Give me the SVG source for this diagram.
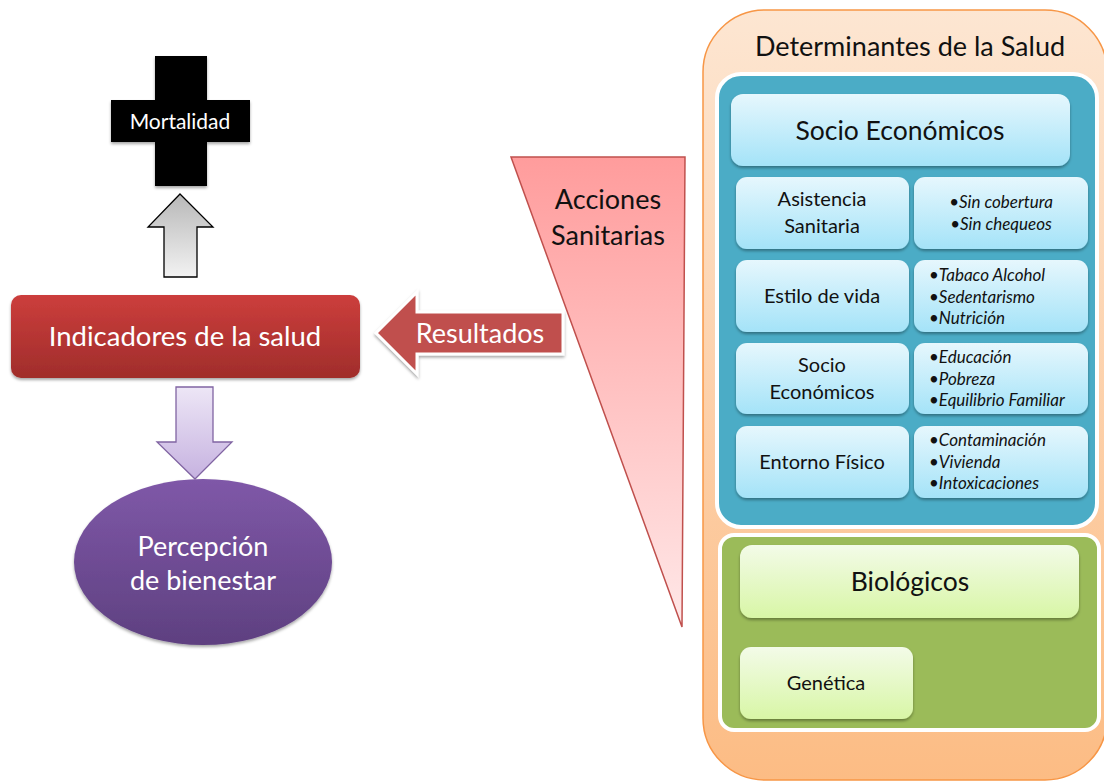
<svg xmlns="http://www.w3.org/2000/svg" width="1104" height="781" viewBox="0 0 1104 781">
<defs>
<style>
text{font-family:Lato,"Open Sans","Liberation Sans",sans-serif;}
.w{fill:#fff;}
.k{fill:#111;}
.c{text-anchor:middle;}
.it{font-style:italic;font-size:17px;fill:#111;}
.cell{fill:url(#gBlue);}
.gcell{fill:url(#gGreen);}
</style>
<linearGradient id="gRed" x1="0" y1="0" x2="0" y2="1"><stop offset="0" stop-color="#cc3e3c"/><stop offset="1" stop-color="#a02d2b"/></linearGradient>
<linearGradient id="gGrey" x1="0" y1="0" x2="0" y2="1"><stop offset="0" stop-color="#b8b8b8"/><stop offset="1" stop-color="#f2f2f2"/></linearGradient>
<linearGradient id="gLav" x1="0" y1="0" x2="0" y2="1"><stop offset="0" stop-color="#ede6f6"/><stop offset="1" stop-color="#c6b2e0"/></linearGradient>
<linearGradient id="gPurp" x1="0" y1="0" x2="0" y2="1"><stop offset="0" stop-color="#7f58a8"/><stop offset="1" stop-color="#5e4080"/></linearGradient>
<linearGradient id="gTri" x1="0" y1="0" x2="0" y2="1"><stop offset="0" stop-color="#ff9c9c"/><stop offset="1" stop-color="#ffe8e8"/></linearGradient>
<linearGradient id="gOr" x1="0" y1="0" x2="0" y2="1"><stop offset="0" stop-color="#fde6d2"/><stop offset="1" stop-color="#fcbc84"/></linearGradient>
<linearGradient id="gBlue" x1="0" y1="0" x2="0" y2="1"><stop offset="0" stop-color="#e6f7fd"/><stop offset="1" stop-color="#a4e3f8"/></linearGradient>
<linearGradient id="gGreen" x1="0" y1="0" x2="0" y2="1"><stop offset="0" stop-color="#f3fbe8"/><stop offset="1" stop-color="#d8f6a6"/></linearGradient>
<filter id="sh" x="-10%" y="-10%" width="120%" height="130%"><feDropShadow dx="0" dy="2" stdDeviation="1.5" flood-color="#000" flood-opacity="0.35"/></filter>
</defs>

<g id="mortalidad">
<path d="M155,56 H207 V100 H250 V142 H207 V186 H155 V142 H111 V100 H155 Z" fill="#000" filter="url(#sh)"/>
<text class="w c" x="180" y="129" font-size="21">Mortalidad</text>
</g>

<g id="indicadores">
<rect x="11" y="295" width="349" height="83" rx="10" fill="url(#gRed)" filter="url(#sh)"/>
<text class="w c" x="185" y="346" font-size="27.5">Indicadores de la salud</text>
</g>

<g id="percepcion">
<ellipse cx="203" cy="562" rx="129" ry="83" fill="url(#gPurp)" filter="url(#sh)"/>
<text class="w c" x="203" y="556" font-size="27">Percepción</text>
<text class="w c" x="203" y="590" font-size="27">de bienestar</text>
</g>

<g id="acciones">
<polygon points="511,157 685,157 682,627" fill="url(#gTri)" stroke="#c0504d" stroke-width="1.5"/>
<text class="k c" x="608" y="209" font-size="27">Acciones</text>
<text class="k c" x="608" y="245" font-size="27">Sanitarias</text>
</g>

<g id="connectors">
<path d="M180,194 L213,227 H197 V277 H164 V227 H148 Z" fill="url(#gGrey)" stroke="#000" stroke-width="1.3"/>
<path d="M195,479 L232,442 H213 V387 H176 V442 H157 Z" fill="url(#gLav)" stroke="#8064a2" stroke-width="1.3"/>
<g id="resultados">
<path d="M376,333 L417,292 V312 H563 V354 H417 V374 Z" fill="#c0504d" stroke="#fff" stroke-width="3" filter="url(#sh)"/>
<text class="w c" x="480" y="343" font-size="27">Resultados</text>
</g>
</g>

<g id="determinantes">
<rect x="703" y="10" width="404" height="770" rx="62" fill="url(#gOr)" stroke="#f79646" stroke-width="1.5"/>
<text class="k c" x="910" y="56" font-size="27">Determinantes de la Salud</text>
</g>

<g id="socio-panel">
<rect x="717" y="74" width="380" height="453" rx="24" fill="#4bacc6" stroke="#fff" stroke-width="4"/>
</g>

<g id="socio-header">
<rect class="cell" x="731" y="94" width="339" height="72" rx="12" filter="url(#sh)"/>
<text class="k c" x="900" y="140" font-size="26.5">Socio Económicos</text>
</g>

<g id="asistencia">
<rect class="cell" x="736" y="177" width="173" height="72" rx="11" filter="url(#sh)"/>
<text class="k c" x="822" y="206" font-size="20">Asistencia</text>
<text class="k c" x="822" y="233" font-size="20">Sanitaria</text>
</g>
<g id="asistencia-items">
<rect class="cell" x="914" y="177" width="174" height="72" rx="11" filter="url(#sh)"/>
<text class="it c" x="1001" y="208">•Sin cobertura</text>
<text class="it c" x="1001" y="230">•Sin chequeos</text>
</g>

<g id="estilo">
<rect class="cell" x="736" y="260" width="173" height="72" rx="11" filter="url(#sh)"/>
<text class="k c" x="822" y="303" font-size="20">Estilo de vida</text>
</g>
<g id="estilo-items">
<rect class="cell" x="914" y="260" width="174" height="72" rx="11" filter="url(#sh)"/>
<text class="it" x="929" y="281">•Tabaco Alcohol</text>
<text class="it" x="929" y="303">•Sedentarismo</text>
<text class="it" x="929" y="324">•Nutrición</text>
</g>

<g id="socio">
<rect class="cell" x="736" y="343" width="173" height="71" rx="11" filter="url(#sh)"/>
<text class="k c" x="822" y="372" font-size="20">Socio</text>
<text class="k c" x="822" y="399" font-size="20">Económicos</text>
</g>
<g id="socio-items">
<rect class="cell" x="914" y="343" width="174" height="71" rx="11" filter="url(#sh)"/>
<text class="it" x="929" y="363">•Educación</text>
<text class="it" x="929" y="385">•Pobreza</text>
<text class="it" x="929" y="406">•Equilibrio Familiar</text>
</g>

<g id="entorno">
<rect class="cell" x="736" y="426" width="173" height="72" rx="11" filter="url(#sh)"/>
<text class="k c" x="822" y="469" font-size="20">Entorno Físico</text>
</g>
<g id="entorno-items">
<rect class="cell" x="914" y="426" width="174" height="72" rx="11" filter="url(#sh)"/>
<text class="it" x="929" y="446">•Contaminación</text>
<text class="it" x="929" y="468">•Vivienda</text>
<text class="it" x="929" y="489">•Intoxicaciones</text>
</g>

<g id="bio-panel">
<rect x="720" y="535" width="379" height="195" rx="14" fill="#9bbb59" stroke="#fff" stroke-width="4"/>
</g>
<g id="biologicos">
<rect class="gcell" x="740" y="545" width="339" height="73" rx="12" filter="url(#sh)"/>
<text class="k c" x="910" y="591" font-size="26.5">Biológicos</text>
</g>
<g id="genetica">
<rect class="gcell" x="740" y="647" width="173" height="72" rx="11" filter="url(#sh)"/>
<text class="k c" x="826" y="690" font-size="20">Genética</text>
</g>
</svg>
